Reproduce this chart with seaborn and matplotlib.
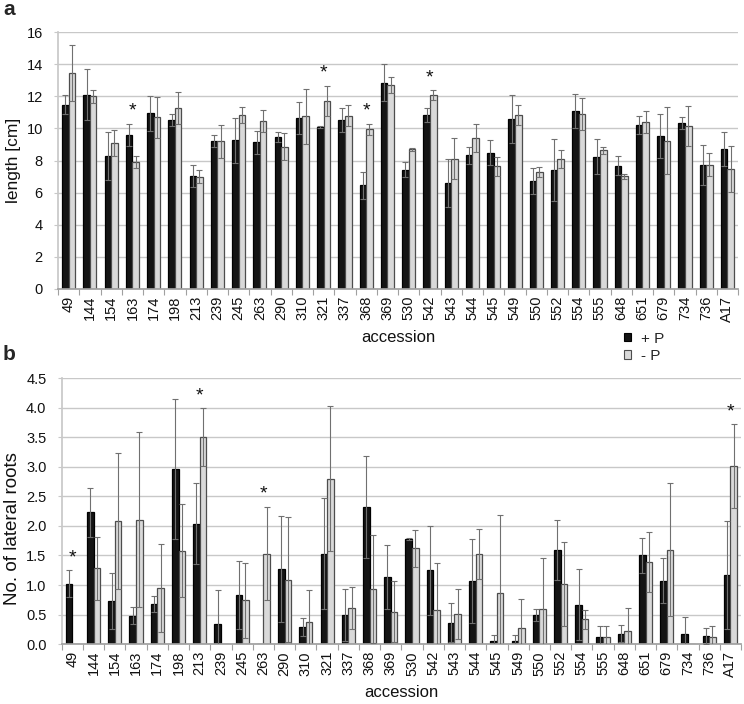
import numpy as np
import pandas as pd
import matplotlib
matplotlib.use("Agg")
import matplotlib.pyplot as plt
import seaborn as sns
from matplotlib.patches import Patch

accessions = ['49', '144', '154', '163', '174', '198', '213', '239', '245', '263',
              '290', '310', '321', '337', '368', '369', '530', '542', '543', '544',
              '545', '549', '550', '552', '554', '555', '648', '651', '679', '734',
              '736', 'A17']
treatments = ['+ P', '- P']

# panel a: root length [cm]
length_plus = [11.47, 12.1, 8.3, 9.6, 10.93, 10.52, 7.05, 9.19, 9.27, 9.13,
               9.46, 10.64, 10.1, 10.5, 6.45, 12.84, 7.43, 10.83, 6.6, 8.32,
               8.49, 10.58, 6.7, 7.41, 11.08, 8.24, 7.68, 10.21, 9.52, 10.31,
               7.74, 8.71]
length_plus_err = [0.58, 1.6, 1.5, 0.7, 1.1, 0.4, 0.7, 0.37, 1.4, 0.7,
                   0.3, 1.0, 0.05, 0.75, 0.85, 1.14, 0.45, 0.41, 1.49, 0.52,
                   0.76, 1.47, 0.81, 1.91, 1.06, 1.08, 0.58, 0.54, 1.35, 0.37,
                   1.24, 1.04]
length_minus = [13.45, 12.0, 9.07, 7.9, 10.68, 11.27, 6.99, 9.19, 10.83, 10.46,
                8.86, 10.75, 11.7, 10.8, 9.95, 12.68, 8.71, 12.07, 8.11, 9.4,
                7.63, 10.81, 7.28, 8.07, 10.89, 8.63, 7.01, 10.41, 9.23, 10.17,
                7.74, 7.49]
length_minus_err = [1.75, 0.4, 0.8, 0.37, 1.27, 1.0, 0.4, 1.05, 0.5, 0.7,
                    0.83, 1.7, 0.95, 0.65, 0.35, 0.49, 0.09, 0.3, 1.27, 0.87,
                    0.61, 0.62, 0.29, 0.56, 0.98, 0.21, 0.15, 0.69, 2.08, 1.24,
                    0.7, 1.43]
stars_a = ['163', '321', '368', '542']

# panel b: number of lateral roots
roots_plus = [1.02, 2.23, 0.73, 0.48, 0.68, 2.96, 2.04, 0.34, 0.83, 0.0,
              1.27, 0.29, 1.53, 0.50, 2.32, 1.13, 1.78, 1.25, 0.36, 1.06,
              0.06, 0.06, 0.50, 1.59, 0.67, 0.12, 0.18, 1.50, 1.07, 0.18,
              0.14, 1.17]
roots_plus_err = [0.23, 0.41, 0.48, 0.14, 0.13, 1.19, 0.69, 0.57, 0.57, 0.0,
                  0.89, 0.16, 0.94, 0.44, 0.87, 0.54, 0.02, 0.75, 0.33, 0.71,
                  0.09, 0.09, 0.10, 0.51, 0.60, 0.18, 0.15, 0.29, 0.38, 0.28,
                  0.13, 0.92]
roots_minus = [0.0, 1.28, 2.08, 2.10, 0.95, 1.58, 3.50, 0.0, 0.74, 1.53,
               1.09, 0.37, 2.80, 0.61, 0.93, 0.55, 1.62, 0.57, 0.51, 1.52,
               0.86, 0.28, 0.60, 1.01, 0.42, 0.12, 0.23, 1.39, 1.60, 0.0,
               0.12, 3.01]
roots_minus_err = [0.0, 0.54, 1.15, 1.48, 0.74, 0.79, 0.49, 0.0, 0.64, 0.79,
                   1.06, 0.54, 1.23, 0.35, 0.91, 0.51, 0.31, 0.81, 0.43, 0.42,
                   1.33, 0.48, 0.85, 0.71, 0.16, 0.18, 0.38, 0.50, 1.13, 0.0,
                   0.18, 0.71]
stars_b = ['49', '213', '263', 'A17']

sns.set_theme(style="white")
plt.rcParams['font.family'] = ['Liberation Sans', 'DejaVu Sans']

colors = {'+ P': '#141414', '- P': '#d9d9d9'}
edges = ['#000000', '#4d4d4d']


def draw_panel(ax, plus, plus_err, minus, minus_err, stars, ymax, ystep, fmt,
               ylabel, ylabel_size, ylabel_xy):
    df = pd.DataFrame({
        'accession': accessions * 2,
        'treatment': [treatments[0]] * len(accessions) + [treatments[1]] * len(accessions),
        'value': plus + minus,
    })
    sns.barplot(data=df, x='accession', y='value', hue='treatment', order=accessions,
                hue_order=treatments, palette=colors, width=0.62, errorbar=None,
                legend=False, ax=ax, linewidth=0.9, saturation=1)
    tops = np.zeros(len(accessions))
    for cont, vals, errs, ec in zip(ax.containers, [plus, minus], [plus_err, minus_err], edges):
        xs, ys, es = [], [], []
        for bar, v, e in zip(cont, vals, errs):
            bar.set_edgecolor(ec)
            if v > 0:
                xs.append(bar.get_x() + bar.get_width() / 2)
                ys.append(v)
                es.append(e)
        ax.errorbar(xs, ys, yerr=es, fmt='none', ecolor='#707070', elinewidth=0.8,
                    capsize=2, capthick=0.8, zorder=5)
        tops = np.maximum(tops, np.array(vals) + np.array(errs))
    for s in stars:
        i = accessions.index(s)
        ax.annotate('*', (i, tops[i]), xytext=(0, 9), textcoords='offset points',
                    ha='center', va='center', fontsize=14, color='#111111')

    ax.set_ylim(0, ymax)
    ax.set_xlim(-0.5, len(accessions) - 0.5)
    ax.set_yticks(np.arange(0, ymax + ystep / 2, ystep))
    ax.yaxis.set_major_formatter(matplotlib.ticker.FormatStrFormatter(fmt))
    ax.yaxis.grid(True, color='#c8c8c8', lw=1)
    ax.set_axisbelow(True)
    for sp in ['top', 'right']:
        ax.spines[sp].set_visible(False)
    ax.spines['left'].set_color('#c8c8c8')
    ax.spines['bottom'].set_color('#a0a0a0')
    ax.set_xticks(np.arange(-0.5, len(accessions)), minor=True)
    ax.tick_params(axis='x', which='major', length=0, labelrotation=90, labelsize=10.5,
                   pad=5, colors='#111111')
    ax.tick_params(axis='x', which='minor', length=4, width=0.8, color='#a0a0a0', bottom=True)
    ax.tick_params(axis='y', length=3, width=0.8, color='#c8c8c8', labelsize=10.5,
                   left=True, pad=8, labelcolor='#111111')
    ax.set_xlabel('accession', fontsize=12, color='#111111', labelpad=6)
    ax.set_ylabel(ylabel, fontsize=ylabel_size, color='#111111')
    ax.yaxis.set_label_coords(*ylabel_xy)


fig = plt.figure(figsize=(7.44, 7.04), dpi=100)
ax_a = fig.add_axes([0.078, 0.5895, 0.914, 0.365])
ax_b = fig.add_axes([0.083, 0.085, 0.913, 0.378])

draw_panel(ax_a, length_plus, length_plus_err, length_minus, length_minus_err,
           stars_a, 16, 2, '%d', 'length [cm]', 12.5, (-0.055, 0.5))
draw_panel(ax_b, roots_plus, roots_plus_err, roots_minus, roots_minus_err,
           stars_b, 4.5, 0.5, '%.1f', 'No. of lateral roots', 13.5, (-0.060, 0.436))

fig.text(0.004, 0.987, 'a', fontsize=15, fontweight='bold', va='center')
fig.text(0.004, 0.497, 'b', fontsize=15, fontweight='bold', va='center')

handles = [Patch(facecolor=colors[t], edgecolor=e, linewidth=0.8, label=t)
           for t, e in zip(treatments, edges)]
fig.legend(handles=handles, loc='center left', bbox_to_anchor=(0.82, 0.507),
           frameon=False, fontsize=11, handlelength=0.5, handleheight=0.5,
           handletextpad=0.6, labelspacing=0.2)

fig.savefig('out.png', dpi=100)
